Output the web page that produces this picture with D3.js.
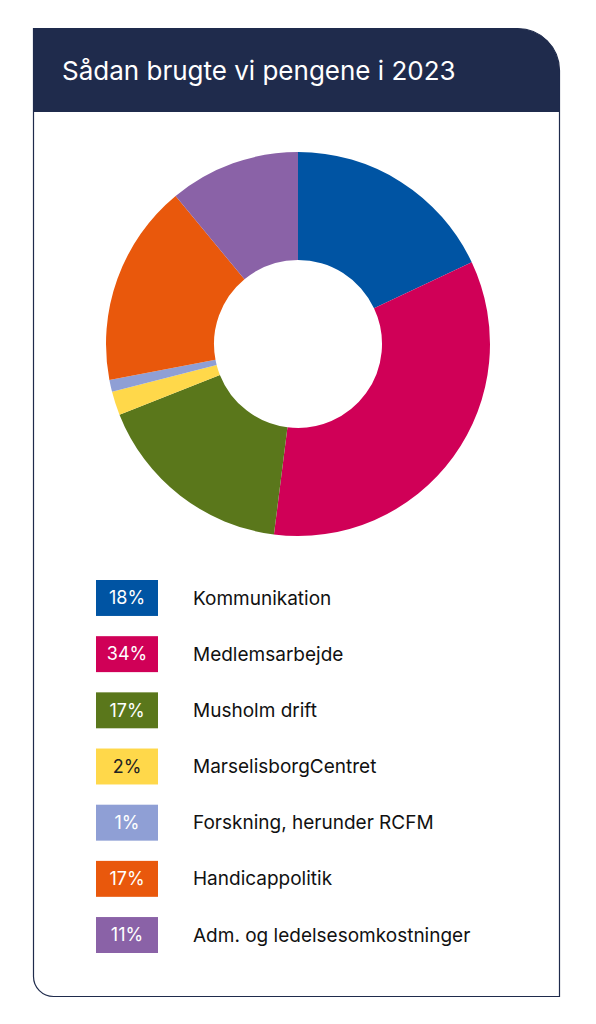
<!DOCTYPE html>
<html><head><meta charset="utf-8">
<script src="https://cdn.jsdelivr.net/npm/d3@7"></script>
<style>body{margin:0;background:#fff}svg{display:block}</style>
</head><body>
<svg id="chart" width="596" height="1024"></svg>
<script>
const title = "Sådan brugte vi pengene i 2023";
const categories = ["Kommunikation", "Medlemsarbejde", "Musholm drift", "MarselisborgCentret",
  "Forskning, herunder RCFM", "Handicappolitik", "Adm. og ledelsesomkostninger"];
const values = [18, 34, 17, 2, 1, 17, 11];
const colors = ["#0054a3", "#d00057", "#5a771b", "#ffd84a", "#8f9fd5", "#e9580c", "#8a62a7"];

const svg = d3.select("#chart");
const navy = "#1f2b4c";

// card outline: rounded top-right and bottom-left
const x0 = 33.5, y0 = 28.5, x1 = 559.5, y1 = 996.5, r = 42, rb = 20;
svg.append("path")
  .attr("d", `M${x0},${y0} H${x1 - r} A${r},${r} 0 0 1 ${x1},${y0 + r} V${y1} H${x0 + rb} A${rb},${rb} 0 0 1 ${x0},${y1 - rb} Z`)
  .attr("fill", "#fff").attr("stroke", navy).attr("stroke-width", 1.2);
svg.append("path")
  .attr("d", `M${x0},${y0} H${x1 - r} A${r},${r} 0 0 1 ${x1},${y0 + r} V112 H${x0} Z`)
  .attr("fill", navy);
svg.append("text").attr("x", 62).attr("y", 80).text(title)
  .attr("fill", "#fff").attr("font-family", "Inter, 'Open Sans', sans-serif").attr("font-size", 26);

// donut
const pie = d3.pie().sort(null).value(d => d);
const arc = d3.arc().innerRadius(84).outerRadius(192);
svg.append("g").attr("transform", "translate(298,344)")
  .selectAll("path").data(pie(values)).join("path")
  .attr("d", arc).attr("fill", (d, i) => colors[i]);

// legend
const y = d3.scaleBand().domain(categories).range([580, 953]).paddingInner(0.36);
const lg = svg.append("g").attr("font-family", "Inter, 'Open Sans', sans-serif");
const rows = lg.selectAll("g").data(categories).join("g")
  .attr("transform", d => `translate(0,${y(d)})`);
rows.append("rect").attr("x", 96).attr("width", 62).attr("height", y.bandwidth())
  .attr("fill", (d, i) => colors[i]);
rows.append("text").attr("x", 127).attr("y", y.bandwidth() / 2).attr("dy", "0.35em")
  .attr("text-anchor", "middle").attr("font-size", 18)
  .attr("fill", (d, i) => i === 3 ? "#222" : "#fff")
  .text((d, i) => values[i] + "%");
rows.append("text").attr("x", 193).attr("y", y.bandwidth() / 2).attr("dy", "0.35em")
  .attr("font-size", 19).attr("fill", "#111").text(d => d);
</script>
</body></html>
